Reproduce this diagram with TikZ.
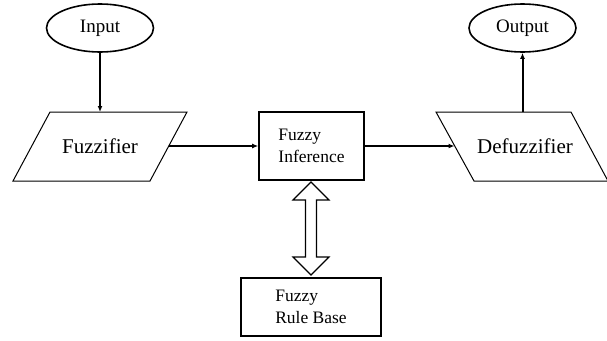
\documentclass[tikz,border=0pt]{standalone}
\usepackage{fontspec}
\setmainfont{Liberation Serif}
\usetikzlibrary{shapes.geometric,arrows.meta}
\begin{document}
\begin{tikzpicture}[x=1pt,y=-1pt,
 term/.style={ellipse,draw,line width=1.6pt,minimum width=107pt,minimum height=48pt,inner sep=0pt,font=\fontsize{19}{21}\selectfont},
 paratext/.style={inner sep=0pt,font=\fontsize{21}{24}\selectfont},
 paraline/.style={line width=1pt,line join=miter},
 blk/.style={rectangle,draw,line width=1.6pt,inner sep=0pt,align=left,font=\fontsize{17.5}{21.5}\selectfont},
 flow/.style={line width=2pt,-{Latex[length=6pt,width=5pt]}},
 dblline/.style={line width=1.2pt,line join=miter}
]
\useasboundingbox (0,0) rectangle (607,340);
% terminals
\node[term] (in) at (100,28) {Input};
\node[term] (out) at (522.5,28) {Output};
% fuzzifier parallelogram
\coordinate (fzA) at (13,181);
\coordinate (fzB) at (150,181);
\coordinate (fzC) at (187,112);
\coordinate (fzD) at (50,112);
\draw[paraline] (fzA) -- (fzB) -- (fzC) -- (fzD) -- cycle;
\node[paratext] (fz) at (100,146) {Fuzzifier};
\coordinate (fzN) at (100,112);
\coordinate (fzE) at (168.5,146);
% defuzzifier parallelogram
\coordinate (dfA) at (474,181);
\coordinate (dfB) at (608,181);
\coordinate (dfC) at (571,112);
\coordinate (dfD) at (436,112);
\draw[paraline] (dfA) -- (dfB) -- (dfC) -- (dfD) -- cycle;
\node[paratext] (dfz) at (525,146) {Defuzzifier};
\coordinate (dfN) at (522.5,112);
\coordinate (dfW) at (454.5,146);
% boxes
\node[blk,minimum width=105pt,minimum height=68pt] (inf) at (311.5,146) {Fuzzy\\Inference};
\node[blk,minimum width=140pt,minimum height=58pt] (rb) at (311,307) {Fuzzy\\Rule Base};
% double arrow between inference and rule base
\coordinate (daT) at (311,182);
\coordinate (daB) at (311,275);
\draw[dblline] (daT) -- (329,200) -- (316.5,200) -- (316.5,257) -- (329,257) -- (daB)
  -- (293,257) -- (305.5,257) -- (305.5,200) -- (293,200) -- cycle;
% flows
\draw[flow] (in) -- (fzN);
\draw[flow] (fzE) -- (inf);
\draw[flow] (inf) -- (dfW);
\draw[flow] (dfN) -- (out);
\end{tikzpicture}
\end{document}
